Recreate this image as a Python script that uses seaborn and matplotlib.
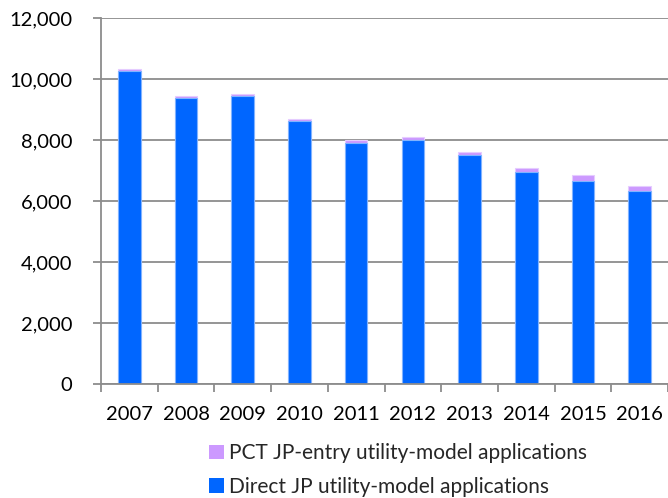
import matplotlib
matplotlib.use("Agg")
import matplotlib.pyplot as plt
import seaborn as sns
import numpy as np
from matplotlib.patches import Patch
from matplotlib.ticker import FuncFormatter, FixedLocator

years = ["2007", "2008", "2009", "2010", "2011", "2012", "2013", "2014", "2015", "2016"]
direct_apps = [10265, 9390, 9435, 8620, 7895, 8010, 7510, 6950, 6670, 6335]
pct_apps = [50, 60, 70, 60, 90, 100, 110, 145, 190, 145]

label_pct = "PCT JP-entry utility-model applications"
label_direct = "Direct JP utility-model applications"
color_pct = "#CC99FF"
color_direct = "#0066FF"

sns.set_theme(style="white")
plt.rcParams["font.family"] = ["Lato", "DejaVu Sans"]

totals = [d + p for d, p in zip(direct_apps, pct_apps)]

fig = plt.figure(figsize=(6.68, 4.98), dpi=100)
ax = fig.add_axes([101 / 668, 114 / 498, 567 / 668, 366 / 498])

sns.barplot(x=years, y=totals, color=color_pct, width=0.4, ax=ax,
            edgecolor="#E5CCFF", linewidth=0.8, saturation=1)
sns.barplot(x=years, y=direct_apps, color=color_direct, width=0.4, ax=ax,
            edgecolor="#80B3FF", linewidth=0.8, saturation=1)

ax.set_xlim(-0.5, len(years) - 0.5)
ax.set_ylim(0, 12000)
ax.set_yticks(np.arange(0, 12001, 2000))
ax.yaxis.set_major_formatter(FuncFormatter(lambda v, p: f"{int(v):,}"))
ax.grid(axis="y", color="#8C8C8C", linewidth=1.3)
ax.set_axisbelow(True)

for s in ["top", "right"]:
    ax.spines[s].set_visible(False)
for s in ["left", "bottom"]:
    ax.spines[s].set_color("#8C8C8C")
    ax.spines[s].set_linewidth(1.3)

ax.xaxis.set_minor_locator(FixedLocator(np.arange(-0.5, len(years), 1.0)))
ax.tick_params(axis="x", which="major", length=0, pad=16, labelsize=14.5, colors="black")
ax.tick_params(axis="x", which="minor", length=6, width=1.3, color="#8C8C8C", bottom=True)
ax.tick_params(axis="y", which="major", length=5.5, width=1.3, color="#8C8C8C", left=True,
               pad=15, labelsize=14.5, labelcolor="black")
ax.set_xlabel("")
ax.set_ylabel("")

handles = [Patch(facecolor=color_pct, edgecolor="none", label=label_pct),
           Patch(facecolor=color_direct, edgecolor="none", label=label_direct)]
fig.legend(handles=handles, loc="center", bbox_to_anchor=(398 / 668, 1 - 470 / 498),
           frameon=False, fontsize=15, handlelength=0.7, handleheight=0.7,
           handletextpad=0.25, labelspacing=0.65, borderpad=0, alignment="left")

fig.savefig("out.png", dpi=100)
